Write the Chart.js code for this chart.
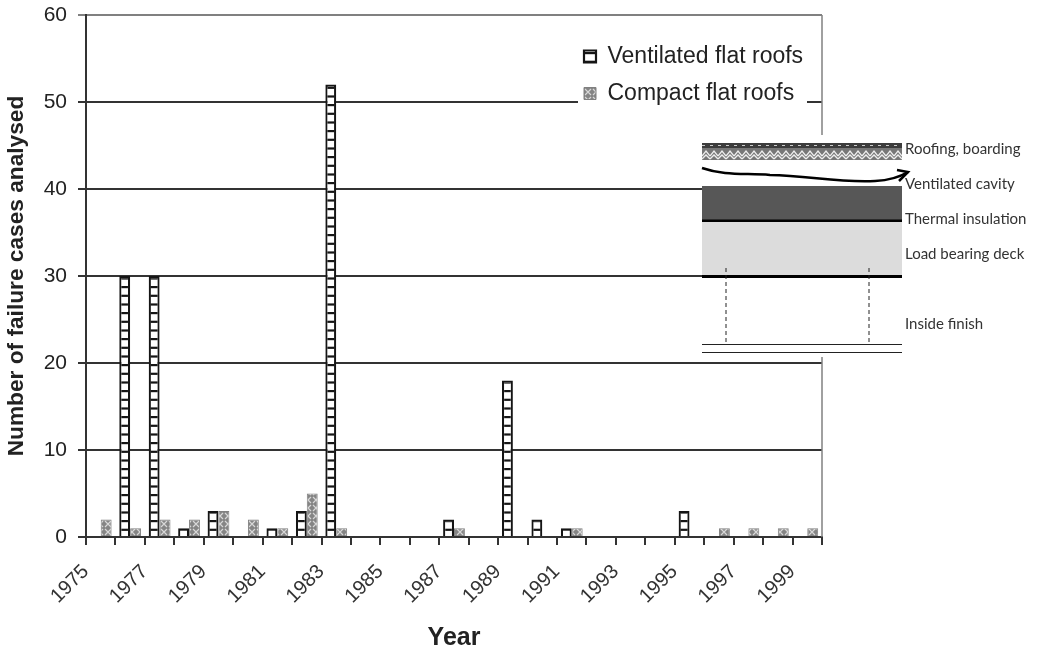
<!DOCTYPE html>
<html><head><meta charset="utf-8">
<style>html,body{margin:0;background:#fff}canvas{display:block;filter:blur(0.4px)}</style>
<script src="https://cdn.jsdelivr.net/npm/chart.js@4"></script></head>
<body><canvas id="c" width="1040" height="651"></canvas>
<script>
const years = ['1975','1976','1977','1978','1979','1980','1981','1982','1983','1984','1985','1986','1987','1988','1989','1990','1991','1992','1993','1994','1995','1996','1997','1998','1999'];
const ventilated = [0,30,30,1,3,0,1,3,52,0,0,0,2,0,18,2,1,0,0,0,3,0,0,0,0];
const compact = [2,1,2,2,3,2,1,5,1,0,0,0,1,0,0,0,1,0,0,0,0,1,1,1,1];
const yTicks = [0,10,20,30,40,50,60];

function tile(w,h,paint){const t=document.createElement('canvas');t.width=w;t.height=h;const g=t.getContext('2d');paint(g);return g.createPattern(t,'repeat');}
const ctxMain=document.getElementById('c').getContext('2d');
const ventPat=tile(4,26,g=>{g.fillStyle='#fff';g.fillRect(0,0,4,26);g.fillStyle='#151515';[0,8.7,17.4].forEach(y=>g.fillRect(0,y,4,2.2));});
const compPat=tile(8,8,g=>{g.fillStyle='#858585';g.fillRect(0,0,8,8);g.strokeStyle='#d8d8d8';g.lineWidth=1.2;g.beginPath();g.moveTo(1,1);g.lineTo(7,7);g.moveTo(7,1);g.lineTo(1,7);g.stroke();});
const hatchPat=tile(8,17,g=>{g.fillStyle='#777';g.fillRect(0,0,8,17);g.fillStyle='#3c3c3c';g.fillRect(0,0,8,5);g.fillStyle='#ccc';g.fillRect(0,2,3,1);g.strokeStyle='#eee';g.lineWidth=1.3;g.beginPath();g.moveTo(0,13);g.lineTo(4,8);g.lineTo(8,13);g.moveTo(0,16);g.lineTo(4,12);g.lineTo(8,16);g.stroke();});

const insetPlugin={id:'inset',
 beforeDraw(chart){
  const leg=chart.legend;
  if(!leg.__o){const orig=leg.draw;leg.__o=orig;leg.draw=function(){const c=chart.ctx;c.save();c.fillStyle='#fff';c.fillRect(578,40,229,75);c.restore();orig.call(leg);};}
 },
 afterDraw(chart){
  const c=chart.ctx;c.save();
  c.strokeStyle='#808080';c.lineWidth=1.5;c.beginPath();c.moveTo(822,15);c.lineTo(822,537);c.stroke();
  c.fillStyle='#fff';c.fillRect(702,135,338,222);
  c.fillStyle=hatchPat;c.save();c.translate(702,143);c.fillRect(0,0,200,17);c.restore();
  c.fillStyle='#575757';c.fillRect(702,186,200,35);
  c.fillStyle='#000';c.fillRect(702,219.5,200,2.5);
  c.fillStyle='#dcdcdc';c.fillRect(702,222,200,54);
  c.fillStyle='#000';c.fillRect(702,275,200,3);
  c.strokeStyle='#222';c.lineWidth=1;c.setLineDash([4,3]);
  [726,869].forEach(x=>{c.beginPath();c.moveTo(x,268);c.lineTo(x,344);c.stroke();});
  c.setLineDash([]);
  c.beginPath();c.moveTo(702,344.5);c.lineTo(902,344.5);c.moveTo(702,352.5);c.lineTo(902,352.5);c.stroke();
  c.strokeStyle='#000';c.lineWidth=2.5;c.beginPath();c.moveTo(702,168);
  c.bezierCurveTo(725,176,745,173,770,175);c.bezierCurveTo(810,176,840,183,875,181);c.quadraticCurveTo(895,180,908,172);c.stroke();
  c.beginPath();c.moveTo(897,170);c.lineTo(908,172);c.lineTo(899,181);c.stroke();
  c.beginPath();c.rect(0,0,1029,651);c.clip();
  c.fillStyle='#333';c.font='15px Lato';c.textBaseline='middle';c.textAlign='left';
  [['Roofing, boarding',149],['Ventilated cavity',184.5],['Thermal insulation',219],['Load bearing deck',254],['Inside finish',324]].forEach(([t,y])=>c.fillText(t,905,y));
  c.restore();
 }};

new Chart(ctxMain,{type:'bar',
 data:{labels:years,datasets:[
  {label:'Ventilated flat roofs',data:ventilated,backgroundColor:ventPat,borderColor:'#151515',borderWidth:2.2,barPercentage:1,categoryPercentage:0.74},
  {label:'Compact flat roofs',data:compact,backgroundColor:compPat,borderColor:'#808080',borderWidth:1,barPercentage:1,categoryPercentage:0.74}]},
 options:{responsive:false,animation:false,devicePixelRatio:1,
  layout:{padding:{top:15,right:218,left:0,bottom:0}},
  plugins:{tooltip:{enabled:false},
   legend:{position:'chartArea',align:'start',
    labels:{font:{family:'Liberation Sans',size:23},color:'#222',boxWidth:12,boxHeight:12,padding:14}}},
  scales:{
   x:{grid:{display:true,drawOnChartArea:false,offset:true,color:'#333',lineWidth:2,tickLength:8},border:{color:'#333',width:2},
      ticks:{autoSkip:false,maxRotation:45,minRotation:45,labelOffset:-15,padding:15,color:'#333',font:{family:'Liberation Sans',size:20},
       callback(v,i){return i%2?'':years[i];}},
      title:{display:true,text:'Year',color:'#222',font:{family:'Liberation Sans',size:25,weight:'bold'},padding:{top:0,bottom:-2}},
      afterFit(s){s.height=114;}},
   y:{min:0,max:60,grid:{color:c=>c.tick.value===60?'#808080':'#333',lineWidth:2,tickLength:8},border:{color:'#333',width:2},
      afterBuildTicks(s){s.ticks=yTicks.map(v=>({value:v}));},
      ticks:{padding:11,color:'#222',font:{family:'Liberation Sans',size:21}},
      title:{display:true,text:'Number of failure cases analysed',color:'#222',font:{family:'Liberation Sans',size:22.7,weight:'bold'},padding:{top:3,bottom:0}},
      afterFit(s){s.width=86;s.paddingTop=0;s.paddingBottom=0;}}}},
 plugins:[insetPlugin,{id:'legendPos',afterLayout(chart){
   const l=chart.legend;l.left=570;l.top=31;l.right=807;l.bottom=400;
 }}]});
</script></body></html>
